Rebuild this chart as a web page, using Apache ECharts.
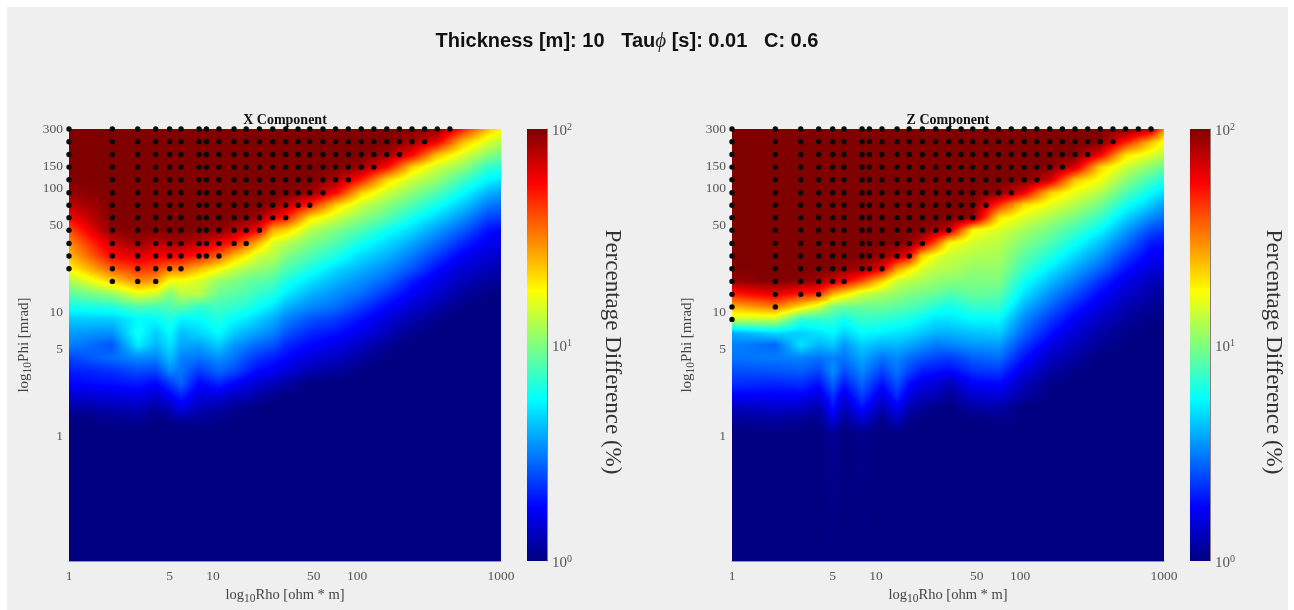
<!DOCTYPE html>
<html><head><meta charset="utf-8">
<style>html,body{margin:0;padding:0;background:#fff}#c{width:1294px;height:610px}#c canvas{filter:blur(0.45px)}</style>
<script src="https://cdn.jsdelivr.net/npm/echarts@6/dist/echarts.min.js"></script>
</head><body><div id="c"></div>
<script>
// Rho columns (ohm*m) and Phi rows (mrad, top to bottom) of the sampled grid
const rhoCols = [1,2,3,4,5,6,8,11,14,17,21,26,32,47,71,107,161,241,361,541,812,1000];
const phiRows = [300,237,187,148,117,92,73,58,46,36,28.5,22.5,17.8,14,11.1,8.8,6.9,5.5,4.3,3.4,2.7,2.1,1.7,1.33,1.05,0.1];
// Percentage difference, one list per Rho column, top row first; rows below a list's end read 1 %
const xComponent = [
[100,100,100,100,100,90,75,56,40,30,24,18,12,8.5,6,4.5,3.6,3.2,2.4,2,1.8,1.4,1.15],
[100,100,100,100,100,100,100,100,95,70,56,36,22,11,6.5,4.5,3.4,2.6,2.9,2.2,1.9,1.5,1.25,1.05],
[100,100,100,100,100,100,100,100,100,90,65,45,30,16,8,5.5,6,5.2,3.3,2.5,2,1.6,1.3,1.1],
[100,100,100,100,100,100,100,100,100,75,58,42,28,14,7.5,5.6,4.5,4,3.2,2.4,1.8,1.4,1.15],
[100,100,100,100,100,100,100,100,100,85,60,32,17,10,8,6.5,5.6,5,4.2,3.3,2.3,1.7,1.3,1.05],
[100,100,100,100,100,100,100,100,100,85,58,32,17,13,8.5,5.4,4.2,3.8,3.2,3,2.8,2,1.6,1.1],
[100,100,100,100,100,100,100,100,100,75,50,24,15,13,7,5.6,4.7,3.7,3,2.3,1.8,1.5,1.3,1.1],
[100,100,100,100,100,100,100,100,95,60,36,18,11,9,7.5,6.5,5.6,4.5,3.4,2.8,2.1,1.5,1.2,1.05],
[100,100,100,100,100,100,100,100,80,50,24,14,10,8.5,7,5.6,4.5,3.5,3,2.5,1.8,1.3,1.1],
[100,100,100,100,100,100,100,95,70,36,19,12,9,8,6.5,5.2,4,3.2,2.5,2.1,1.6,1.3,1.05],
[100,100,100,100,100,100,100,85,56,24,14,11,8.5,7,5.8,4.5,3.6,2.8,2.2,1.8,1.45,1.15],
[100,100,100,100,100,100,95,60,26,15,13,10,8,6.5,5,3.9,3.2,2.6,2,1.7,1.3,1.05],
[100,100,100,100,100,100,75,50,22,13,10,8,6.3,5.2,4,3.2,2.6,2.1,1.8,1.5,1.2],
[100,100,100,100,100,90,50,20,13,10,8,6.3,5,4,3.3,2.6,2.1,1.8,1.5,1.25],
[100,100,100,100,85,55,22,14,10,8,6.3,4.8,4,3.4,2.9,2.3,1.9,1.6,1.35,1.15],
[100,100,100,90,50,22,14,10.5,8,6,4.8,4,3.4,2.9,2.3,1.9,1.6,1.35,1.15],
[100,100,85,55,21,14,10.5,8.3,6,4.8,4,3.3,2.8,2.2,1.8,1.5,1.3,1.1],
[100,85,57,22,14,10.5,8,6,4.8,3.8,3.1,2.6,2,1.7,1.45,1.25,1.05],
[95,60,24,14,11,8,6,4.6,3.6,2.9,2.3,1.85,1.6,1.4,1.2,1.05],
[50,24,15,11,7.5,5.6,4.4,3.4,2.7,2.1,1.7,1.45,1.3,1.15,1.02],
[24,15,10.5,7,5.4,4,3.1,2.4,1.9,1.65,1.45,1.3,1.15,1.03],
[18,13,9.5,6.8,5,3.6,2.9,2.3,1.8,1.6,1.4,1.25,1.1]
];
const zComponent = [
[100,100,100,100,100,100,100,100,100,100,100,100,90,50,25,14,3.8,3.2,3,2.5,2.2,1.7,1.3,1.1],
[100,100,100,100,100,100,100,100,100,100,100,100,100,62,32,14,4.8,2.8,3.1,2.6,2.1,1.7,1.4,1.15],
[100,100,100,100,100,100,100,100,100,100,100,100,95,50,20,7,4.5,5,3.2,2.7,2.2,1.7,1.35,1.1],
[100,100,100,100,100,100,100,100,100,100,100,100,85,45,14,7,5,4,3,2.4,1.9,1.5,1.2,1.05],
[100,100,100,100,100,100,100,100,100,100,100,100,70,25,9.5,7,5.5,4.4,3.2,3.4,2.8,2.2,1.9,1.5,1.1],
[100,100,100,100,100,100,100,100,100,100,100,90,60,20,9,6,4.6,3.5,3,2.5,2,1.5,1.3,1.1],
[100,100,100,100,100,100,100,100,100,100,100,85,40,14,9,7.2,5.6,4.5,3.8,3.3,2.8,2.3,1.9,1.4,1.05],
[100,100,100,100,100,100,100,100,100,100,90,62,22,12,9,7,5.3,4,3,2.4,1.9,1.5,1.25,1.05],
[100,100,100,100,100,100,100,100,100,100,75,28,14,11,8.5,6.5,5,4.1,3.3,3,2.6,2.1,1.7,1.3],
[100,100,100,100,100,100,100,100,100,92,58,20,13,10,8,6.2,4.8,3.8,2.9,2.4,1.9,1.5,1.25,1.05],
[100,100,100,100,100,100,100,100,100,70,22,15,12,9.5,7.5,5.6,4.4,3.4,2.6,2,1.6,1.3,1.1],
[100,100,100,100,100,100,100,100,88,38,16,13,11,9,6.5,5,4,3.1,2.4,1.9,1.5,1.25,1.05],
[100,100,100,100,100,100,100,100,75,18,14,12.5,10.5,8,6,5,4,3.2,2.3,1.8,1.3,1.1],
[100,100,100,100,100,100,100,95,18,14.5,12.5,11,10,9,7,5.6,4.3,3.5,2.7,2.2,1.75,1.4,1.15],
[100,100,100,100,100,95,45,20,15,13,12,11,10,8.5,7,5.6,4.5,3.6,2.9,2.3,1.85,1.45,1.2,1.05],
[100,100,100,100,100,60,21,15,12,10,8.5,7.3,6,5,4,3.3,2.8,2.3,1.9,1.55,1.3,1.15],
[100,100,100,100,70,22,16,12,9.5,8,6.5,5.2,4.2,3.4,2.8,2.3,1.9,1.6,1.35,1.2,1.05],
[100,100,100,70,23,16,12.5,9.5,7.5,5.9,4.7,3.8,3.1,2.5,2,1.7,1.45,1.3,1.15,1.05],
[100,100,60,22,17,12.5,9.5,7.2,5.6,4.3,3.5,2.8,2.2,1.8,1.55,1.35,1.2,1.1],
[100,50,20,14,10.5,8,6,4.6,3.6,2.9,2.3,1.9,1.6,1.4,1.25,1.15,1.05],
[80,24,15.5,10.5,7.5,5.6,4.4,3.3,2.5,1.95,1.7,1.5,1.3,1.2,1.1,1.03],
[30,17,13,9,6.5,4.8,3.6,2.9,2.3,1.9,1.7,1.5,1.3,1.15,1.08,1.03]
];
// Black dots: Rho column, and how far down that column the dots reach (index into phiRows)
const dotCols = [1,2,3,4,5,6,8,9,11,14,17,21,26,32,39,47,58,71,87,107,131,161,197,241,295,361,442,541,663,812];
const xDotDepth = [11,12,12,12,11,11,10,10,10,9,9,8,7,7,6,6,5,4,4,3,3,2,2,1,1,0,0];
const zDotDepth = [15,14,13,13,12,12,11,11,11,10,10,9,8,8,7,7,6,5,5,4,4,3,3,2,2,1,1,0,0,0];
const rhoTicks = [1,5,10,50,100,1000];
const phiTicks = [1,5,10,50,100,150,300];

const serif = '"Liberation Serif","DejaVu Serif",serif';
const jetStops = [[0,[0,0,128]],[0.125,[0,0,255]],[0.375,[0,255,255]],[0.625,[255,255,0]],[0.875,[255,0,0]],[1,[128,0,0]]];
function jet(t){
  t=Math.max(0,Math.min(1,t));
  for(let i=1;i<jetStops.length;i++){
    if(t<=jetStops[i][0]){
      const a=jetStops[i-1],b=jetStops[i],f=(t-a[0])/(b[0]-a[0]);
      return [0,1,2].map(k=>a[1][k]+(b[1][k]-a[1][k])*f);
    }
  }
  return jetStops[5][1];
}
const toT = v => Math.log10(v)/2;
function cells(vals){
  const out=[];
  const at=(c,r)=>{const v=vals[c][r];return v===undefined?1:v;};
  for(let c=0;c<rhoCols.length-1;c++)for(let r=0;r<phiRows.length-1;r++){
    out.push([rhoCols[c],rhoCols[c+1],phiRows[r],phiRows[r+1],at(c,r),at(c+1,r),at(c,r+1),at(c+1,r+1)]);
  }
  return out;
}
function renderCell(params,api){
  const p0=api.coord([api.value(0),api.value(2)]), p1=api.coord([api.value(1),api.value(3)]);
  const x=Math.round(p0[0]),y=Math.round(p0[1]),w=Math.round(p1[0])-x,h=Math.round(p1[1])-y;
  if(w<=0||h<=0)return null;
  const a=toT(api.value(4)),b=toT(api.value(5)),c=toT(api.value(6)),d=toT(api.value(7));
  const cv=document.createElement('canvas');cv.width=w;cv.height=h;
  const g=cv.getContext('2d'),im=g.createImageData(w,h);
  for(let j=0;j<h;j++){const fy=(j+.5)/h;for(let i=0;i<w;i++){const fx=(i+.5)/w;
    const t=(a*(1-fx)+b*fx)*(1-fy)+(c*(1-fx)+d*fx)*fy;
    const col=jet(t),o=(j*w+i)*4;
    im.data[o]=col[0];im.data[o+1]=col[1];im.data[o+2]=col[2];im.data[o+3]=255;
  }}
  g.putImageData(im,0,0);
  return {type:'image',silent:true,style:{image:cv,x:x,y:y,width:w,height:h}};
}
function dots(depth){
  const out=[];
  depth.forEach((d,i)=>{for(let r=0;r<=d;r++)out.push([dotCols[i],phiRows[r]]);});
  return out;
}
const labelStyle={color:'#555',fontFamily:serif,fontSize:13.5};
const edge={show:true,onZero:false,lineStyle:{color:'#8f8fc8',width:1}};
const subRich={s:{fontFamily:serif,fontSize:11.5,color:'#444',verticalAlign:'bottom',padding:[8,0,0,0]}};
function plotX(i){return {gridIndex:i,type:'log',logBase:10,min:1,max:1000,axisLine:edge,axisTick:{show:false},splitLine:{show:false},minorTick:{show:false},
  axisLabel:Object.assign({customValues:rhoTicks,margin:8,formatter:v=>String(Math.round(v))},labelStyle),
  name:'log{s|10}Rho [ohm * m]',nameLocation:'middle',nameGap:24,nameTextStyle:{color:'#444',fontFamily:serif,fontSize:14.5,rich:subRich}};}
function plotY(i){return {gridIndex:i,type:'log',logBase:10,min:0.1,max:300,axisLine:edge,axisTick:{show:false},splitLine:{show:false},minorTick:{show:false},
  axisLabel:Object.assign({customValues:phiTicks,margin:6,padding:[2,0,0,0],formatter:v=>String(Math.round(v))},labelStyle),
  name:'log{s|10}Phi [mrad]',nameLocation:'middle',nameGap:35,nameRotate:90,nameTextStyle:{color:'#444',fontFamily:serif,fontSize:15,rich:subRich}};}
function barX(i){return {gridIndex:i,type:'value',min:0,max:1,show:false};}
function barY(i,gap){return {gridIndex:i,type:'log',logBase:10,min:1,max:100,position:'right',
  axisLine:{show:true,onZero:false,lineStyle:{color:'#8a7a7a',width:1}},axisTick:{show:false},minorTick:{show:false},splitLine:{show:false},
  axisLabel:{margin:5,padding:[5,0,0,0],color:'#555',fontFamily:serif,fontSize:15,formatter:v=>'10{e|'+Math.round(Math.log10(v))+'}',rich:{e:{fontFamily:serif,fontSize:10,color:'#555',verticalAlign:'top',padding:[0,0,8,0]}}},
  name:'Percentage Difference (%)',nameLocation:'middle',nameGap:gap,nameRotate:-90,nameTextStyle:{color:'#333',fontFamily:serif,fontSize:23,padding:[0,0,0,14]}};}
function heat(i,vals){return {type:'custom',xAxisIndex:i,yAxisIndex:i,renderItem:renderCell,data:cells(vals),encode:{x:[0,1],y:[2,3]},silent:true,clip:true,z:1,animation:false,progressive:0};}
function dotSeries(i,d){return {type:'scatter',xAxisIndex:i,yAxisIndex:i,data:dots(d),symbolSize:5.4,itemStyle:{color:'#0a0a0a',opacity:1},clip:false,silent:true,z:3,animation:false};}
function bar(i){return {type:'custom',xAxisIndex:i,yAxisIndex:i,silent:true,animation:false,z:1,data:[[0,1,1,100]],encode:{x:[0,1],y:[2,3]},
  renderItem:function(p,api){
    const a=api.coord([api.value(0),api.value(3)]),b=api.coord([api.value(1),api.value(2)]);
    return {type:'rect',shape:{x:a[0],y:a[1],width:b[0]-a[0],height:b[1]-a[1]},style:{fill:new echarts.graphic.LinearGradient(0,1,0,0,jetStops.map(s=>({offset:s[0],color:'rgb('+s[1].join(',')+')'})))}};
  }};}
const chart=echarts.init(document.getElementById('c'),null,{renderer:'canvas'});
const gridBase={outerBoundsMode:'none',containLabel:false,top:129,height:432};
chart.setOption({
  animation:false,
  backgroundColor:'#ffffff',
  graphic:[{type:'rect',z:-10,silent:true,shape:{x:7,y:7,width:1281,height:603},style:{fill:'#efefef'}}],
  title:[
    {text:'Thickness [m]: 10   Tau{p|ϕ} [s]: 0.01   C: 0.6',left:622,top:26,textAlign:'center',textStyle:{color:'#111',fontFamily:'"Liberation Sans",Arial,sans-serif',fontWeight:'bold',fontSize:20,rich:{p:{fontFamily:serif,fontStyle:'italic',fontWeight:'normal',fontSize:21,color:'#222'}}}},
    {text:'X Component',left:280,top:108,textAlign:'center',textStyle:{color:'#111',fontFamily:serif,fontWeight:'bold',fontSize:14}},
    {text:'Z Component',left:943,top:108,textAlign:'center',textStyle:{color:'#111',fontFamily:serif,fontWeight:'bold',fontSize:14}}
  ],
  grid:[
    Object.assign({left:69,width:432},gridBase),
    Object.assign({left:732,width:432},gridBase),
    Object.assign({left:527,width:20},gridBase),
    Object.assign({left:1190,width:20},gridBase)
  ],
  xAxis:[plotX(0),plotX(1),barX(2),barX(3)],
  yAxis:[plotY(0),plotY(1),barY(2,54),barY(3,52)],
  series:[heat(0,xComponent),heat(1,zComponent),dotSeries(0,xDotDepth),dotSeries(1,zDotDepth),bar(2),bar(3)]
});
</script></body></html>
